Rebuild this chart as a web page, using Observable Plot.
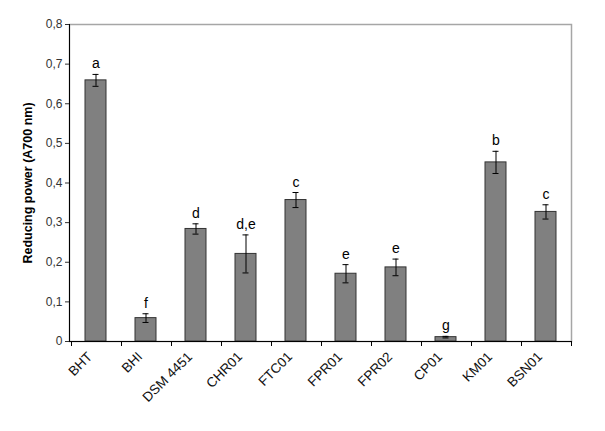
<!DOCTYPE html>
<html>
<head>
<meta charset="utf-8">
<script src="https://cdn.jsdelivr.net/npm/d3@7"></script>
<script src="https://cdn.jsdelivr.net/npm/@observablehq/plot@0.6"></script>
<style>
  body { margin: 0; background: #fff; }
  #chart svg { display: block; }
</style>
</head>
<body>
<div id="chart"></div>
<script>
const categories = ["BHT", "BHI", "DSM 4451", "CHR01", "FTC01", "FPR01", "FPR02", "CP01", "KM01", "BSN01"];
const values = [0.659, 0.059, 0.284, 0.221, 0.357, 0.171, 0.187, 0.011, 0.452, 0.327];
const errors = [0.015, 0.011, 0.013, 0.048, 0.019, 0.023, 0.021, 0.002, 0.028, 0.018];
const letters = ["a", "f", "d", "d,e", "c", "e", "e", "g", "b", "c"];
const yTicks = [0, 0.1, 0.2, 0.3, 0.4, 0.5, 0.6, 0.7, 0.8];

const data = categories.map((c, i) => ({cat: c, v: values[i], e: errors[i], lab: letters[i]}));
const fmt = d => d === 0 ? "0" : d.toFixed(1).replace(".", ",");

// structural lines: left axis line and bottom ticks at band boundaries
function axesLines(index, scales, values, dims) {
  const {x, y} = scales;
  const g = d3.create("svg:g").attr("stroke", "#000").attr("stroke-width", 1);
  const y0 = y(0), yTop = y(0.8);
  const left = dims.marginLeft, right = dims.width - dims.marginRight;
  g.append("line").attr("x1", left + 0.5).attr("x2", left + 0.5).attr("y1", yTop).attr("y2", y0 + 0.5);
  const step = x.step();
  const edges = categories.map(c => x(c) + x.bandwidth() / 2 - step / 2);
  edges.push(right);
  for (const ex of edges) {
    g.append("line").attr("x1", Math.round(ex) + 0.5).attr("x2", Math.round(ex) + 0.5)
      .attr("y1", y0).attr("y2", y0 + 5);
  }
  return g.node();
}

const chart = Plot.plot({
  width: 605,
  height: 431,
  marginLeft: 69,
  marginRight: 34,
  marginTop: 24,
  marginBottom: 90,
  style: {fontFamily: "'Liberation Sans', Arial, sans-serif", background: "#fff"},
  x: {domain: categories, paddingInner: 0.58, paddingOuter: 0.29, label: null, axis: null},
  y: {domain: [0, 0.8], label: null},
  marks: [
    Plot.frame({stroke: "#a6a6a6", strokeWidth: 1.5}),
    Plot.barY(data, {x: "cat", y: "v", fill: "#808080", stroke: "#333", strokeWidth: 1}),
    Plot.ruleY([0], {stroke: "#000"}),
    Plot.ruleX(data, {x: "cat", y1: d => d.v - d.e, y2: d => d.v + d.e, stroke: "#000", strokeWidth: 1}),
    Plot.tickY(data, {x: "cat", y: d => d.v + d.e, stroke: "#000", insetLeft: 7.5, insetRight: 7.5}),
    Plot.tickY(data, {x: "cat", y: d => d.v - d.e, stroke: "#000", insetLeft: 7.5, insetRight: 7.5}),
    Plot.text(data, {x: "cat", y: d => d.v + d.e, text: "lab", dy: -6, lineAnchor: "bottom", fontSize: 14, fill: "#000"}),
    Plot.axisY({ticks: yTicks, tickFormat: fmt, tickSize: 4, tickPadding: 3, fontSize: 12, color: "#333", label: null}),
    Plot.text(data, {x: "cat", y: () => 0, text: "cat", rotate: -45, textAnchor: "end", lineAnchor: "middle",
      dx: -6, dy: 13, fontSize: 13.5, fill: "#111"}),
    axesLines,
    Plot.text(["Reducing power (A700 nm)"], {
      frameAnchor: "left", dx: -42, rotate: -90, textAnchor: "middle", fontSize: 12.5, fontWeight: "bold", fill: "#000"
    })
  ]
});
document.getElementById("chart").appendChild(chart);
</script>
</body>
</html>
